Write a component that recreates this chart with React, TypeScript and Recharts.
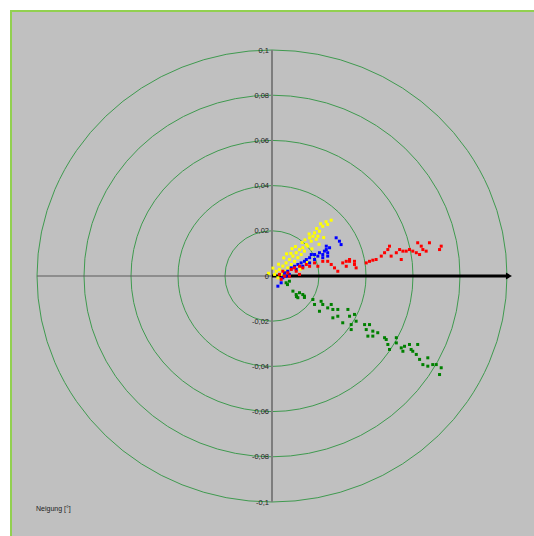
import React from 'react'
import {
  ScatterChart,
  Scatter,
  XAxis,
  YAxis,
  ReferenceArea,
  ReferenceLine,
  ReferenceDot,
} from 'recharts'

// concentric rings of the polar plot
const ringRadii = [0.02, 0.04, 0.06, 0.08, 0.1]

// labels on the vertical axis
const tickValues = [0.1, 0.08, 0.06, 0.04, 0.02, 0, -0.02, -0.04, -0.06, -0.08, -0.1]
const tickLabels = ['0,1', '0,08', '0,06', '0,04', '0,02', '0', '-0,02', '-0,04', '-0,06', '-0,08', '-0,1']

const yellowPoints: [number, number][] = [
  [0.0252, 0.0247], [0.0237, 0.0228], [0.0216, 0.022], [0.0202, 0.0198], [0.0181, 0.0191],
  [0.0174, 0.0176], [0.0195, 0.0176], [0.016, 0.0169], [0.0188, 0.0162], [0.0167, 0.0154],
  [0.0146, 0.0139], [0.0152, 0.0132], [0.0131, 0.0125], [0.0117, 0.0117], [0.0138, 0.011],
  [0.0103, 0.0103], [0.0124, 0.0095], [0.0089, 0.0088], [0.011, 0.0081], [0.0074, 0.0073],
  [0.0096, 0.0065], [0.006, 0.0058], [0.0082, 0.0051], [0.0046, 0.0044], [0.0067, 0.0036],
  [0.0032, 0.0029], [0.0053, 0.0021], [0.0018, 0.0021], [0.0039, 0.0007], [0.0011, 0.0007],
  [0.0025, -0.0008], [0.012, 0.003], [0.015, 0.006], [0.008, 0.01], [0.02, 0.014],
  [0.022, 0.017], [0.005, 0.008], [0.01, 0.013], [0.017, 0.012], [0.014, 0.016],
  [0.019, 0.021], [0.023, 0.024], [-0.0015, 0.0012], [0.0004, 0.0035], [0.0028, 0.0052],
  [0.0062, 0.0098], [0.0085, 0.0121], [0.0128, 0.0148], [0.0158, 0.0186], [0.0207, 0.0231],
]

const bluePoints: [number, number][] = [
  [0.0025, -0.0045], [0.0039, -0.003], [0.0046, -0.0008], [0.0053, 0.0014], [0.0067, 0.0021],
  [0.0082, 0.0036], [0.0096, 0.0043], [0.011, 0.0051], [0.0124, 0.0058], [0.0138, 0.0065],
  [0.0146, 0.0073], [0.016, 0.0081], [0.0167, 0.0095], [0.0181, 0.0095], [0.0195, 0.0088],
  [0.0202, 0.0103], [0.0216, 0.0095], [0.0223, 0.011], [0.0231, 0.0117], [0.0237, 0.0103],
  [0.0231, 0.0132], [0.0245, 0.0125], [0.0273, 0.0169], [0.0287, 0.0154], [0.0294, 0.0139],
  [0.0181, 0.0073], [0.016, 0.0058], [0.0131, 0.0043], [0.0103, 0.0029], [0.0074, 0.0007],
  [0.006, -0.0001], [0.0216, 0.0081], [0.0237, 0.0088],
]

const redPoints: [number, number][] = [
  [0.0032, 0.0007], [0.0046, 0.0021], [0.0067, 0.0014], [0.0082, 0.0029], [0.0096, 0.0036],
  [0.0103, 0.0021], [0.0117, 0.0043], [0.0131, 0.0036], [0.0146, 0.0051], [0.016, 0.0043],
  [0.0181, 0.0058], [0.0195, 0.0043], [0.0216, 0.0065], [0.0237, 0.0065], [0.0252, 0.0051],
  [0.0266, 0.0036], [0.028, 0.0021], [0.0301, 0.0058], [0.0316, 0.0043], [0.033, 0.0065],
  [0.0351, 0.0051], [0.0358, 0.0036], [0.0074, -0.0001], [0.0117, 0.0007], [0.0053, -0.0001],
  [0.0039, -0.0015], [0.0316, 0.0065], [0.033, 0.0073], [0.0351, 0.0065], [0.0401, 0.0058],
  [0.0415, 0.0065], [0.0429, 0.007], [0.0443, 0.0073], [0.0465, 0.0088], [0.0479, 0.0103],
  [0.0493, 0.0117], [0.05, 0.0132], [0.0507, 0.0088], [0.0529, 0.0103], [0.0543, 0.0117],
  [0.055, 0.0073], [0.0557, 0.011], [0.0571, 0.011], [0.0585, 0.0117], [0.0599, 0.011],
  [0.0614, 0.0103], [0.062, 0.0147], [0.0628, 0.0095], [0.0635, 0.0132], [0.0642, 0.0117],
  [0.0656, 0.011], [0.067, 0.0147], [0.0713, 0.0117], [0.072, 0.0132],
]

const greenPoints: [number, number][] = [
  [0.006, -0.003], [0.0074, -0.0023], [0.0089, -0.0067], [0.0103, -0.0082], [0.0117, -0.0074],
  [0.011, -0.0096], [0.0131, -0.0082], [0.0138, -0.0089], [0.0174, -0.0104], [0.0181, -0.0126],
  [0.0202, -0.0156], [0.0209, -0.0112], [0.0216, -0.0126], [0.0237, -0.0141], [0.0252, -0.0126],
  [0.0259, -0.0148], [0.0259, -0.0185], [0.028, -0.0148], [0.028, -0.0178], [0.0301, -0.0207],
  [0.0323, -0.0148], [0.033, -0.0178], [0.0337, -0.0237], [0.0337, -0.0215], [0.0351, -0.017],
  [0.0358, -0.02], [0.0394, -0.0215], [0.0401, -0.0237], [0.0415, -0.0215], [0.0408, -0.0266],
  [0.0429, -0.0244], [0.0429, -0.0266], [0.045, -0.0251], [0.0479, -0.0273], [0.0486, -0.0281],
  [0.0493, -0.0303], [0.05, -0.0325], [0.0529, -0.0273], [0.0529, -0.0296], [0.055, -0.0318],
  [0.0557, -0.0333], [0.0564, -0.0311], [0.0585, -0.0303], [0.0592, -0.0325], [0.0599, -0.0333],
  [0.0614, -0.0347], [0.062, -0.0303], [0.0628, -0.0369], [0.0642, -0.0392], [0.0663, -0.0362],
  [0.0663, -0.0399], [0.0684, -0.0392], [0.0699, -0.0392], [0.0713, -0.0436], [0.072, -0.0406],
  [0.0066, -0.0038], [0.0104, -0.0091], [0.0138, -0.0095],
]

const toRows = (pts: [number, number][]) => pts.map(([x, y]) => ({ x, y }))

const Square = (props: any) => {
  const { cx, cy, fill } = props
  if (cx == null || cy == null) return null
  return <rect x={cx - 1.5} y={cy - 1.5} width={3} height={3} fill={fill} />
}

const Ring = (props: any) => {
  const { x, y, width, height } = props
  return (
    <ellipse
      cx={x + width / 2}
      cy={y + height / 2}
      rx={width / 2}
      ry={height / 2}
      fill="none"
      stroke="#3f9a4f"
      strokeWidth={1}
    />
  )
}

const Arrow = (props: any) => {
  const { x1, y1, x2, y2 } = props
  return (
    <g>
      <line x1={x1} y1={y1} x2={x2 - 4} y2={y2} stroke="#000" strokeWidth={3} />
      <polygon points={`${x2},${y2} ${x2 - 6},${y2 - 3.5} ${x2 - 6},${y2 + 3.5}`} fill="#000" />
    </g>
  )
}

export default function App() {
  return (
    <div style={{ position: 'absolute', left: 0, top: 0, width: 534, height: 536, background: '#fff' }}>
      <div
        style={{
          position: 'absolute',
          left: 10,
          top: 10,
          right: 0,
          bottom: 0,
          background: '#c0c0c0',
          borderTop: '2px solid #92d050',
          borderLeft: '2px solid #92d050',
        }}
      />
      <div style={{ position: 'absolute', left: 0, top: 0 }}>
        <ScatterChart width={534} height={536} margin={{ top: 50, left: 37, right: 27, bottom: 34 }}>
          <XAxis type="number" dataKey="x" domain={[-0.1, 0.1]} allowDataOverflow hide />
          <YAxis type="number" dataKey="y" domain={[-0.1, 0.1]} allowDataOverflow hide />
          {ringRadii.map((r) => (
            <ReferenceArea key={r} x1={-r} x2={r} y1={-r} y2={r} shape={<Ring />} ifOverflow="visible" />
          ))}
          <ReferenceLine
            segment={[{ x: 0, y: 0.1 }, { x: 0, y: -0.1 }]}
            stroke="#7d7d7d"
            strokeWidth={2}
            ifOverflow="visible"
          />
          <ReferenceLine
            segment={[{ x: -0.1, y: 0 }, { x: 0, y: 0 }]}
            stroke="#5a5a5a"
            strokeWidth={1.2}
            ifOverflow="visible"
          />
          {tickValues.map((v, i) => (
            <ReferenceDot
              key={v}
              x={0}
              y={v}
              r={0}
              fill="none"
              stroke="none"
              ifOverflow="visible"
              label={{
                value: tickLabels[i],
                position: 'left',
                offset: 3,
                fontSize: 7.5,
                fill: '#1e1e1e',
                fontFamily: 'Liberation Sans, Arial, sans-serif',
              }}
            />
          ))}
          <Scatter data={toRows(yellowPoints)} fill="#ffff00" shape={<Square />} isAnimationActive={false} />
          <Scatter data={toRows(bluePoints)} fill="#0000ff" shape={<Square />} isAnimationActive={false} />
          <Scatter data={toRows(redPoints)} fill="#ff0000" shape={<Square />} isAnimationActive={false} />
          <Scatter data={toRows(greenPoints)} fill="#008000" shape={<Square />} isAnimationActive={false} />
          <ReferenceLine
            segment={[{ x: 0, y: 0 }, { x: 0.1021, y: 0 }]}
            shape={<Arrow />}
            ifOverflow="visible"
          />
        </ScatterChart>
      </div>
      <div
        style={{
          position: 'absolute',
          left: 36,
          top: 505,
          fontSize: 7,
          color: '#222',
          fontFamily: 'Liberation Sans, Arial, sans-serif',
        }}
      >
        Neigung [°]
      </div>
    </div>
  )
}
